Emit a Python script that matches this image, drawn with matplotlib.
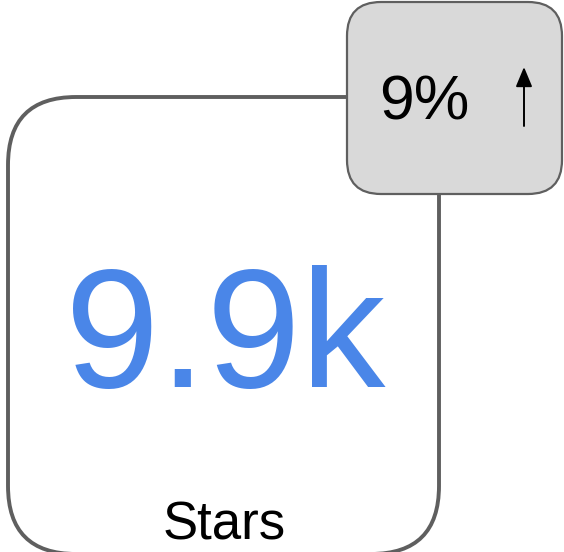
import matplotlib

matplotlib.use("Agg")
import matplotlib.pyplot as plt
from matplotlib.patches import FancyBboxPatch, FancyArrowPatch

# KPI card contents
metric_value = ["9.9k"]
metric_label = ["Stars"]
change_pct = [9]
change_dir = ["up"]

W, H = 564, 552
fig = plt.figure(figsize=(W / 100, H / 100), dpi=100)
ax = fig.add_axes([0, 0, 1, 1])
ax.set_xlim(0, W)
ax.set_ylim(H, 0)
ax.axis("off")

FONT = "Liberation Sans"
EDGE = "#5f5f5f"

# main card (bottom edge runs just past the image)
ax.add_patch(FancyBboxPatch(
    (8, 97), 431, 457, boxstyle="round,pad=0,rounding_size=68",
    linewidth=2.8, edgecolor=EDGE, facecolor="white", zorder=1))

ax.text(225.5, 387, metric_value[0], ha="center", va="baseline",
        fontsize=122, color="#4a86e8", family=FONT, zorder=2)
ax.text(224, 540, metric_label[0], ha="center", va="baseline",
        fontsize=38, color="black", family=FONT, zorder=2)

# change badge
ax.add_patch(FancyBboxPatch(
    (347, 2), 215, 192, boxstyle="round,pad=0,rounding_size=34",
    linewidth=1.6, edgecolor=EDGE, facecolor="#d9d9d9", zorder=3))

ax.text(424, 120, f"{change_pct[0]}%", ha="center", va="baseline",
        fontsize=45, color="black", family=FONT, zorder=4)

y0, y1 = (126, 67) if change_dir[0] == "up" else (67, 126)
ax.add_patch(FancyArrowPatch(
    (524, y0), (524, y1), arrowstyle="-|>,head_length=0.6,head_width=0.25",
    mutation_scale=20, linewidth=1.4, color="black",
    shrinkA=0, shrinkB=0, zorder=4))

fig.savefig("out.png", dpi=100)
